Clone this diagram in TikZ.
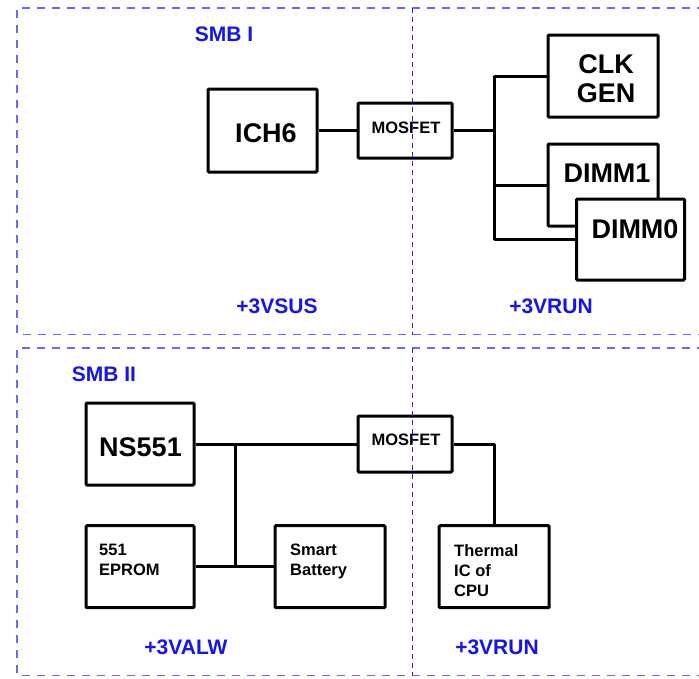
\documentclass[tikz,border=0pt]{standalone}
\usepackage{fontspec}
\setmainfont{Liberation Sans}
\begin{document}
\begin{tikzpicture}[x=1pt,y=-1pt,
  box/.style={draw=black, line width=3pt, fill=white, rounded corners=1pt, inner sep=0pt},
  wire/.style={draw=black, line width=3pt, line join=round},
  bigtxt/.style={font=\bfseries\fontsize{27}{29}\selectfont, inner sep=0pt, align=center},
  midtxt/.style={font=\bfseries\fontsize{16.5}{20}\selectfont, inner sep=0pt, align=left},
  bluetxt/.style={font=\bfseries\fontsize{21}{24}\selectfont, text={rgb,255:red,20;green,20;blue,240}, inner sep=0pt},
  outer/.style={draw={rgb,255:red,105;green,105;blue,255}, line width=1.5pt, dash pattern=on 8pt off 7pt},
  divider/.style={draw={rgb,255:red,30;green,30;blue,245}, line width=1pt, dash pattern=on 5pt off 4pt}
]
\clip (0,0) rectangle (699,678);
\fill[white] (0,0) rectangle (699,678);

% panels
\draw[outer] (720,8) -- (17,8) -- (17,334.5) -- (720,334.5);
\draw[outer] (720,348) -- (17,348) -- (17,675.5) -- (720,675.5);

% ---------- SMB I ----------
\node[box, minimum width=109, minimum height=83] (ich) at (262.5,130.5) {};
\node[bigtxt] (ichT) at (266,133) {ICH6};
\node[box, minimum width=94, minimum height=55] (mos1) at (405,130.5) {};
\node[midtxt] (mos1T) at (406,128) {MOSFET};
\node[box, minimum width=110, minimum height=82] (clk) at (603,76) {};
\node[bigtxt] (clkT) at (606,78.5) {CLK\\GEN};
\node[box, minimum width=110, minimum height=82] (dimm1) at (603,185) {};
\node[bigtxt] (dimm1T) at (607,173) {DIMM1};
\node[box, minimum width=108, minimum height=81] (dimm0) at (630.5,239.5) {};
\node[bigtxt] (dimm0T) at (635,229) {DIMM0};

\coordinate (bus) at (494,0);
\draw[wire] (ich.east) -- (mos1.west);
\draw[wire] (mos1.east) -- (mos1.east -| bus);
\draw[wire] (clk.west) -- (clk.west -| bus) -- (dimm0.west -| bus) -- (dimm0.west);
\draw[wire] (dimm1.west) -- (dimm1.west -| bus);

\node[bluetxt] (smb1) at (224,34) {SMB I};
\node[bluetxt] (vsus) at (277,306) {+3VSUS};
\node[bluetxt] (vrun1) at (551,306) {+3VRUN};

% ---------- SMB II ----------
\node[box, minimum width=108, minimum height=82] (ns) at (140,444) {};
\node[bigtxt] (nsT) at (140.5,447) {NS551};
\node[box, minimum width=108, minimum height=82] (eprom) at (140,566.7) {};
\node[midtxt, anchor=north west] (epromT) at (99,544) {551\\EPROM};
\node[box, minimum width=110, minimum height=82] (sb) at (330,566.7) {};
\node[midtxt, anchor=north west] (sbT) at (290,544) {Smart\\Battery};
\node[box, minimum width=94, minimum height=56] (mos2) at (405,444) {};
\node[midtxt] (mos2T) at (406,440) {MOSFET};
\node[box, minimum width=110, minimum height=82] (therm) at (494.2,566.7) {};
\node[midtxt, anchor=north west] (thermT) at (454,544) {Thermal\\IC of\\CPU};

\coordinate (bus2) at (235,0);
\draw[wire] (ns.east) -- (mos2.west);
\draw[wire] (ns.east -| bus2) -- (eprom.east -| bus2);
\draw[wire] (eprom.east) -- (sb.west);
\draw[wire] (mos2.east) -| (therm.north);

\node[bluetxt] (smb2) at (104,374) {SMB II};
\node[bluetxt] (valw) at (186,647) {+3VALW};
\node[bluetxt] (vrun2) at (497,647) {+3VRUN};

% dividers
\draw[divider] (412,8) -- (412,334.5);
\draw[divider] (412,348) -- (412,675.5);
\end{tikzpicture}
\end{document}
